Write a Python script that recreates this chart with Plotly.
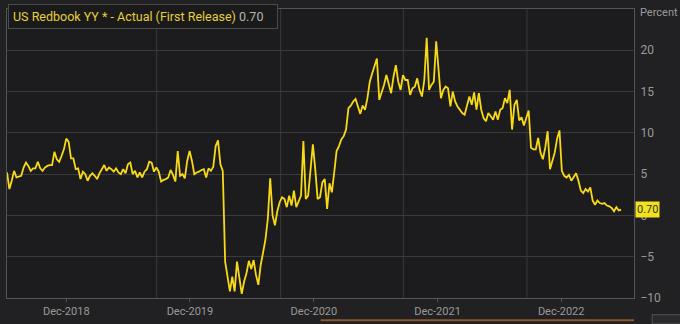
import pandas as pd
import plotly.graph_objects as go

# Weekly US Redbook YY values (%), week ending Saturdays
start_date = "2018-06-09"
values = [
    5.2, 3.2, 4.2, 5.4, 4.6, 4.7, 4.8, 5.8, 6.4, 6.0,
    5.4, 5.7, 5.7, 6.5, 5.7, 5.4, 5.8, 6.0, 6.1, 6.1,
    7.7, 6.8, 6.5, 7.2, 8.0, 9.3, 8.9, 6.9, 6.9, 5.6,
    5.7, 4.4, 5.3, 5.0, 4.2, 4.8, 5.1, 4.8, 4.4, 5.1,
    5.7, 6.1, 5.4, 5.8, 5.6, 5.3, 5.7, 5.2, 5.0, 5.6,
    5.1, 6.2, 6.4, 5.0, 5.4, 4.6, 5.2, 4.6, 5.3, 5.6,
    6.5, 6.4, 5.3, 5.8, 5.3, 4.1, 4.3, 4.4, 4.6, 5.5,
    4.9, 4.1, 7.8, 4.8, 5.0, 4.5, 6.6, 7.8, 6.6, 5.0,
    5.2, 5.3, 5.5, 5.6, 4.6, 5.7, 5.4, 5.9, 8.4, 9.1,
    6.2, 5.4, -5.6, -7.2, -9.2, -7.4, -9.2, -5.6, -7.6, -9.5,
    -8.0, -7.0, -5.5, -6.5, -5.4, -7.2, -8.4, -6.0, -4.5, -2.9,
    -0.4, 4.5, 0.0, -1.2, 0.5, 1.6, 2.2, 2.0, 1.0, 2.4,
    1.2, 3.0, 1.0, 1.6, 2.4, 9.0, 2.0, 2.4, 6.0, 8.6,
    5.6, 2.0, 2.2, 4.0, 4.4, 0.8, 3.9, 2.8, 5.2, 7.8,
    8.4, 9.2, 9.6, 10.4, 13.0, 13.3, 13.8, 14.1, 13.2, 12.3,
    13.3, 12.8, 14.2, 16.2, 17.2, 18.0, 19.0, 14.0, 14.8, 15.8,
    17.0, 15.8, 14.8, 16.8, 18.2, 16.2, 15.2, 17.0, 16.4, 16.4,
    14.6, 15.4, 15.6, 16.6, 15.2, 14.4, 16.4, 21.5, 15.2, 15.8,
    16.2, 21.1, 17.6, 14.2, 15.2, 15.6, 15.4, 13.2, 15.0, 13.8,
    13.2, 12.8, 12.4, 12.2, 13.2, 14.4, 13.4, 14.9, 12.8, 14.8,
    12.8, 11.8, 11.4, 12.4, 12.0, 11.6, 12.6, 11.6, 12.8, 13.0,
    14.2, 13.6, 15.2, 10.4, 13.4, 14.0, 11.5, 11.9, 10.9, 11.7,
    12.7, 8.2, 8.0, 8.0, 9.4, 7.6, 6.8, 8.2, 10.2, 5.6,
    6.6, 7.6, 9.3, 10.3, 5.4, 4.8, 4.6, 4.9, 4.2, 4.6,
    5.1, 4.2, 3.0, 2.7, 3.2, 2.9, 3.4, 1.8, 1.3, 1.8,
    1.5, 1.4, 1.5, 1.2, 1.1, 0.9, 0.5, 1.0, 0.6, 0.7,
]
dates = pd.date_range(start_date, periods=len(values), freq="7D")

series_name = "US Redbook YY * - Actual (First Release)"
last_label = "0.70"
x_tick_vals = ["2018-12-01", "2019-12-01", "2020-12-01", "2021-12-01", "2022-12-01"]
x_tick_text = ["Dec-2018", "Dec-2019", "Dec-2020", "Dec-2021", "Dec-2022"]
x_grid_vals = ["2019-08-25", "2020-08-25", "2021-08-22", "2022-08-22"]
y_tick_vals = [-10, -5, 0, 5, 10, 15, 20]

LINE = "#f7d917"
GRID = "#3a3a3c"
TXT = "#9a9a9a"
FONT = "Roboto"

fig = go.Figure()
fig.add_trace(go.Scatter(
    x=dates, y=values, mode="lines",
    line=dict(color=LINE, width=1.8),
    hoverinfo="skip", showlegend=False,
))

shapes = []
for gv in x_grid_vals:
    shapes.append(dict(type="line", xref="x", yref="paper", x0=gv, x1=gv, y0=0, y1=1,
                       line=dict(color=GRID, width=1), layer="below"))
# navigator bar fragments at the very bottom
shapes.append(dict(type="line", xref="paper", yref="paper", x0=0.5, x1=1.0,
                   y0=-0.077, y1=-0.077, line=dict(color="#8a5a2a", width=2)))
shapes.append(dict(type="rect", xref="paper", yref="paper", x0=1.029, x1=1.08,
                   y0=-0.09, y1=-0.058, line=dict(color="#555", width=1), fillcolor="#2a2a2c"))

fig.update_layout(
    width=680, height=324,
    margin=dict(l=6, r=46, t=9, b=24),
    paper_bgcolor="#212123",
    plot_bgcolor="#1c1c1e",
    font=dict(family=FONT, size=11, color=TXT),
    shapes=shapes,
    xaxis=dict(
        type="date",
        range=["2018-06-09", "2023-07-04"],
        tickvals=x_tick_vals, ticktext=x_tick_text,
        showgrid=False,
        ticks="outside", ticklen=3, tickcolor="#555",
        showline=True, linecolor="#555", linewidth=1, mirror=True,
        tickfont=dict(size=11, color=TXT),
        zeroline=False,
    ),
    yaxis=dict(
        side="right",
        range=[-10, 25],
        tickvals=y_tick_vals,
        showgrid=True, gridcolor=GRID, gridwidth=1,
        showline=True, linecolor="#555", linewidth=1, mirror=True,
        ticks="", ticklabelstandoff=3,
        tickfont=dict(size=12, color=TXT),
        zeroline=False,
    ),
    annotations=[
        dict(xref="paper", yref="paper", x=1.0, y=1.0, xanchor="left", yanchor="middle",
             xshift=4, yshift=-3, text="Percent", showarrow=False,
             font=dict(size=11, color=TXT, family=FONT)),
        dict(xref="paper", yref="y", x=1.0, y=values[-1], xanchor="left", yanchor="middle",
             xshift=1, text=last_label, showarrow=False,
             bgcolor="#f2e21c", borderpad=1,
             font=dict(size=11, color="#333", family=FONT)),
        dict(xref="paper", yref="paper", x=0.0, y=1.0, xanchor="left", yanchor="top",
             xshift=1, yshift=5,
             text=f'<span style="color:#e6cf3c">{series_name}</span> '
                  f'<span style="color:#b4b4b4">{last_label}</span>&nbsp;&nbsp;&nbsp;',
             showarrow=False, bgcolor="#1a1a1b", bordercolor="#4a4a4a", borderwidth=1,
             borderpad=4, font=dict(size=12.5, family=FONT)),
    ],
)

fig.write_html("out.html")
